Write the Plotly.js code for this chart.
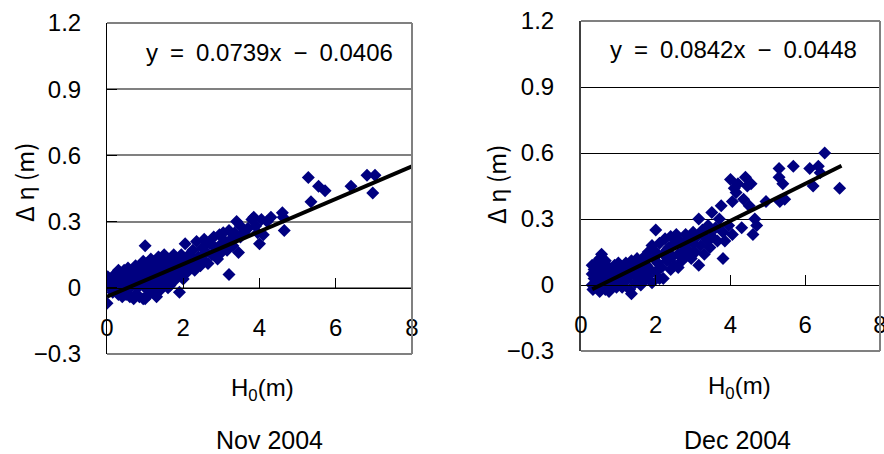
<!DOCTYPE html>
<html>
<head>
<meta charset="utf-8">
<script src="https://cdn.plot.ly/plotly-3.0.1.min.js"></script>
<style>html,body{margin:0;padding:0;background:#fff;}#chart{width:884px;height:454px;}</style>
</head>
<body>
<div id="chart"></div>
<script>
// ---- Nov 2004 (left panel) ----
const novX = [0.02,0.0,0.0,0.05,0.1,0.15,0.2,0.25,0.3,0.3,0.35,0.4,0.4,0.45,0.5,0.5,0.55,0.55,
  0.6,0.6,0.65,0.7,0.7,0.75,0.75,0.8,0.8,0.85,0.85,0.9,0.9,0.95,0.95,1.0,1.0,1.0,1.0,
  1.05,1.05,1.1,1.1,1.15,1.15,1.2,1.2,1.25,1.25,1.3,1.3,1.35,1.35,1.4,1.4,1.45,1.45,1.5,1.5,1.5,
  1.55,1.6,1.6,1.65,1.65,1.7,1.7,1.75,1.75,1.8,1.8,1.85,1.9,1.9,1.95,2.0,2.0,
  2.05,2.05,2.1,2.15,2.2,2.25,2.3,2.3,2.35,2.4,2.45,2.5,2.5,
  2.55,2.6,2.65,2.7,2.75,2.8,2.85,2.9,2.95,3.0,3.0,
  3.05,3.1,3.15,3.2,3.2,3.25,3.3,3.35,3.4,3.45,3.5,3.5,
  3.6,3.7,3.8,3.85,3.9,3.95,4.0,4.05,4.1,4.2,4.3,4.6,4.62,4.65,
  5.28,5.35,5.55,5.72,6.4,6.82,7.03,6.97,
  0.2,0.35,0.6,0.7,0.45,1.15,1.3,0.8,0.95,1.6,1.75];
const novY = [0.05,0.03,-0.07,0.01,0.0,-0.02,0.02,0.04,0.08,-0.03,0.0,0.03,-0.04,0.06,0.01,-0.03,0.09,0.04,
  0.0,-0.04,0.05,0.08,0.02,-0.03,0.1,0.04,0.0,0.07,-0.04,0.1,0.02,-0.05,0.05,0.19,0.08,0.0,-0.05,
  0.03,0.11,0.06,-0.03,0.09,0.0,0.12,0.04,-0.02,0.07,0.1,0.02,0.14,0.05,-0.01,0.08,0.12,0.03,0.15,0.06,0.01,
  0.1,0.04,0.13,0.08,0.01,0.12,0.05,0.15,0.03,0.09,0.13,0.06,-0.02,0.11,0.15,0.08,0.04,
  0.2,0.12,0.07,0.15,0.1,0.17,0.12,0.08,0.21,0.14,0.1,0.18,0.13,
  0.22,0.16,0.11,0.2,0.15,0.23,0.18,0.13,0.24,0.2,0.16,
  0.25,0.21,0.17,0.06,0.26,0.22,0.19,0.25,0.3,0.16,0.28,0.23,
  0.25,0.27,0.31,0.32,0.28,0.25,0.2,0.31,0.24,0.3,0.32,0.34,0.32,0.26,
  0.5,0.39,0.46,0.44,0.46,0.51,0.51,0.43,
  0.06,0.05,0.07,-0.05,0.08,0.13,-0.04,0.09,0.12,0.0,0.07];
const novTrendX = [0, 8];
const novTrendY = [-0.0406, 0.5506];
const novEq = "y\u2002=\u20020.0739x\u2002\u2212\u20020.0406";

// ---- Dec 2004 (right panel) ----
const decX = [0.3,0.3,0.3,0.32,0.35,0.35,0.4,0.4,0.42,0.45,0.45,0.5,0.5,0.52,0.55,0.55,0.6,0.6,0.65,0.65,
  0.7,0.7,0.75,0.75,0.8,0.85,0.85,0.9,0.9,0.95,1.0,1.0,1.0,
  1.05,1.1,1.1,1.15,1.2,1.2,1.25,1.3,1.3,1.35,1.35,1.4,1.45,1.45,1.5,1.5,
  1.55,1.6,1.6,1.65,1.7,1.7,1.75,1.8,1.8,1.85,1.9,1.9,1.95,2.0,2.0,2.0,
  2.05,2.1,2.1,2.15,2.2,2.2,2.25,2.3,2.35,2.4,2.4,2.45,2.5,2.5,
  2.55,2.6,2.6,2.65,2.7,2.75,2.8,2.8,2.85,2.9,2.95,3.0,3.0,
  3.05,3.1,3.15,3.15,3.2,3.25,3.3,3.35,3.4,3.45,3.5,3.5,
  3.6,3.65,3.75,3.8,3.8,3.85,3.95,4.0,4.05,4.05,4.1,4.15,4.2,4.3,4.35,4.4,4.45,4.5,4.55,4.6,4.65,4.7,4.95,
  5.3,5.3,5.32,5.4,5.45,5.68,6.12,6.21,6.35,6.4,6.52,6.92,
  0.8,1.05,1.25,1.55,1.75,2.3,2.7,3.0,3.4,3.7];
const decY = [0.09,0.05,0.0,-0.02,0.07,0.03,0.1,-0.01,0.05,0.08,0.02,0.12,-0.03,0.06,0.14,0.01,0.09,0.04,-0.02,0.11,
  0.06,0.01,0.08,-0.03,0.04,0.07,0.0,0.03,0.09,-0.01,0.06,0.1,0.02,
  0.04,0.08,-0.01,0.05,0.1,0.02,0.07,-0.02,0.04,0.11,-0.04,0.06,0.01,0.09,0.12,0.04,
  0.08,0.0,0.11,0.05,0.13,0.02,0.09,0.15,0.04,0.07,0.18,0.01,0.12,0.25,0.06,0.15,
  0.1,0.19,0.03,0.08,0.14,0.03,0.21,0.11,0.17,0.07,0.22,0.13,0.19,0.09,
  0.23,0.14,0.08,0.2,0.11,0.18,0.23,0.13,0.16,0.21,0.12,0.19,0.24,
  0.15,0.22,0.09,0.3,0.18,0.25,0.14,0.21,0.27,0.17,0.33,0.22,
  0.26,0.2,0.36,0.24,0.12,0.2,0.27,0.48,0.38,0.23,0.44,0.42,0.46,0.26,0.39,0.49,0.45,0.36,0.46,0.23,0.3,0.27,0.38,
  0.53,0.49,0.38,0.46,0.39,0.54,0.53,0.45,0.54,0.51,0.6,0.44,
  0.02,0.01,0.05,0.06,0.12,0.16,0.15,0.14,0.2,0.3];
const decTrendX = [0.3, 6.97];
const decTrendY = [-0.0195, 0.5421];
const decEq = "y\u2002=\u20020.0842x\u2002\u2212\u20020.0448";

const yTitle = "\u0394 \u03b7 (m)";
const xTitle = "H<sub>0</sub>(m)";
const panelNames = ["Nov 2004", "Dec 2004"];

const FONT = "Liberation Sans, Arial, sans-serif";
const NAVY = "#000080";

const traces = [
  {x: novX, y: novY, xaxis: "x", yaxis: "y", type: "scatter", mode: "markers",
   marker: {symbol: "diamond", size: 10, color: NAVY}, hoverinfo: "skip"},
  {x: novTrendX, y: novTrendY, xaxis: "x", yaxis: "y", type: "scatter", mode: "lines",
   line: {color: "#000", width: 4}, hoverinfo: "skip"},
  {x: decX, y: decY, xaxis: "x2", yaxis: "y2", type: "scatter", mode: "markers",
   marker: {symbol: "diamond", size: 10, color: NAVY}, hoverinfo: "skip"},
  {x: decTrendX, y: decTrendY, xaxis: "x2", yaxis: "y2", type: "scatter", mode: "lines",
   line: {color: "#000", width: 4}, hoverinfo: "skip"}
];

function xAx(dom, pos) {
  return {domain: dom, range: [0, 8], anchor: "free", position: pos, dtick: 2, tick0: 0,
    showline: true, linecolor: "#000", linewidth: 1, ticks: "inside", ticklen: 10,
    tickcolor: "#000", tickwidth: 1, showgrid: false, zeroline: false, ticklabeloverflow: "allow",
    tickfont: {family: FONT, size: 24, color: "#000"}, ticklabelstandoff: 18};
}
function yAx(dom, anchor, grid, lc, lw) {
  return {domain: dom, range: [-0.3, 1.2], anchor: anchor, dtick: 0.3, tick0: 0,
    showline: true, linecolor: lc, linewidth: lw, ticks: "inside", ticklen: 10,
    tickcolor: "#000", tickwidth: 1, showgrid: true, gridcolor: grid.c, gridwidth: grid.w,
    zeroline: false, tickfont: {family: FONT, size: 24, color: "#000"}, ticklabelstandoff: 20};
}

const L = {x: [0.12104, 0.46606], y: [0.22026, 0.94934]};
const R = {x: [0.65724, 0.99548], y: [0.22687, 0.95374]};
const zeroL = L.y[0] + 0.2 * (L.y[1] - L.y[0]);
const zeroR = R.y[0] + 0.2 * (R.y[1] - R.y[0]);

function border(xr, yr) {
  const base = {type: "line", xref: xr + " domain", yref: yr + " domain",
    line: {color: "#808080", width: 2}, layer: "above"};
  return [
    Object.assign({x0: 0, x1: 1, y0: 1, y1: 1}, base),
    Object.assign({x0: 1, x1: 1, y0: 0, y1: 1}, base),
    Object.assign({x0: 0, x1: 1, y0: 0, y1: 0}, base)
  ];
}

const ann = (text, x, y, size, extra) => Object.assign({text: text, x: x, y: y, xref: "paper", yref: "paper",
  showarrow: false, xanchor: "center", yanchor: "middle",
  font: {family: FONT, size: size, color: "#000"}}, extra || {});

const layout = {
  width: 884, height: 454, margin: {l: 0, r: 0, t: 0, b: 0},
  paper_bgcolor: "#fff", plot_bgcolor: "#fff", showlegend: false,
  xaxis: xAx(L.x, zeroL),
  yaxis: yAx(L.y, "x", {c: "#808080", w: 2}, "#000", 1),
  xaxis2: xAx(R.x, zeroR),
  yaxis2: yAx(R.y, "x2", {c: "#000", w: 1}, "#404040", 2),
  shapes: border("x", "y").concat(border("x2", "y2")),
  annotations: [
    ann(novEq, 0.3043, 0.8833, 24),
    ann(decEq, 0.8298, 0.8899, 24),
    ann(xTitle, 0.2975, 0.1410, 24),
    ann(xTitle, 0.8371, 0.1454, 24),
    ann(panelNames[0], 0.3043, 0.0308, 25),
    ann(panelNames[1], 0.8348, 0.0308, 25),
    ann(yTitle, 0.0260, 0.5991, 24, {textangle: -90, font: {family: "Noto Sans CJK JP, " + FONT, size: 24, color: "#000"}}),
    ann(yTitle, 0.5600, 0.5925, 24, {textangle: -90, font: {family: "Noto Sans CJK JP, " + FONT, size: 24, color: "#000"}})
  ]
};

Plotly.newPlot("chart", traces, layout, {staticPlot: true, displayModeBar: false});
</script>
</body>
</html>
